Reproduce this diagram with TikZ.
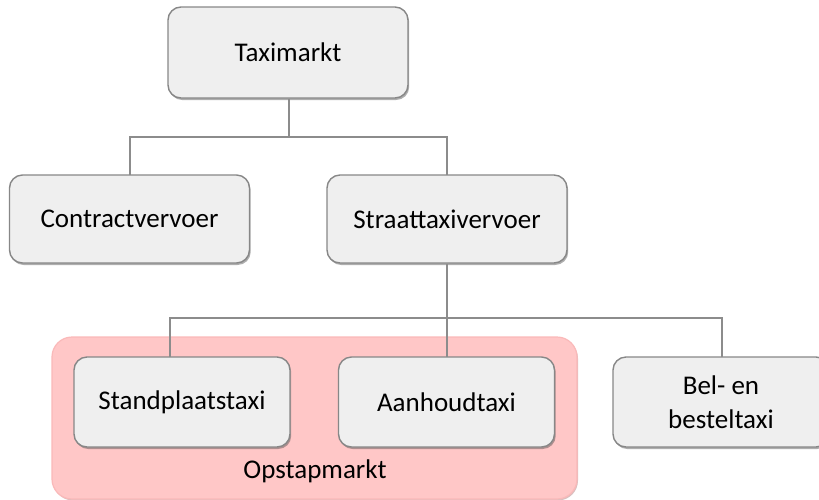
\documentclass[tikz,border=0pt]{standalone}
\usepackage{fontspec}
\setmainfont{Carlito}
\usetikzlibrary{shadows}
\definecolor{boxfill}{RGB}{239,239,239}
\definecolor{boxline}{RGB}{135,135,135}
\definecolor{linkcol}{RGB}{140,140,140}
\definecolor{pinkfill}{RGB}{255,199,199}
\definecolor{pinkline}{RGB}{250,185,185}
\tikzset{
  orgbox/.style={rectangle, rounded corners=13pt, draw=boxline, line width=1.4pt,
    fill=boxfill, inner sep=0pt, align=center, font=\fontsize{27}{34}\selectfont,
    drop shadow={shadow xshift=1.2pt, shadow yshift=-2pt, opacity=0.45, fill=black!70}},
  groupbox/.style={rectangle, rounded corners=20pt, draw=pinkline, line width=1.2pt,
    fill=pinkfill, inner sep=0pt,
    drop shadow={shadow xshift=1pt, shadow yshift=-1.5pt, opacity=0.25, fill=red!40!black}},
  link/.style={draw=linkcol, line width=2pt}
}
\begin{document}
\begin{tikzpicture}[x=1pt,y=-1pt]
\useasboundingbox (0,0) rectangle (819,499);
% group
\node[groupbox, minimum width=525pt, minimum height=162pt] (grp) at (314.5,418) {};
\node[font=\fontsize{27}{31}\selectfont, anchor=center, inner sep=0pt] (grplbl) at (315,471) {Opstapmarkt};
% boxes
\node[orgbox, minimum width=240pt, minimum height=91pt] (tax) at (288,52.5) {Taximarkt};
\node[orgbox, minimum width=240pt, minimum height=88pt] (con) at (129.5,219) {Contractvervoer};
\node[orgbox, minimum width=240pt, minimum height=88pt] (str) at (447,219) {Straattaxivervoer};
\node[orgbox, minimum width=216pt, minimum height=90pt] (sta) at (182,402) {Standplaatstaxi};
\node[orgbox, minimum width=216pt, minimum height=90pt] (aan) at (446.5,402) {Aanhoudtaxi};
\node[orgbox, minimum width=216pt, minimum height=90pt] (bel) at (721,402) {Bel- en\\besteltaxi};
% junctions
\coordinate (j1) at (289,137);
\coordinate (j2) at (447,318);
\coordinate (staTop) at (170,357);
\coordinate (aanTop) at (447,357);
\coordinate (belTop) at (722,357);
\coordinate (conTop) at (130,175);
\coordinate (strTop) at (447,175);
% connectors
\draw[link] (tax.south -| j1) -- (j1);
\draw[link] (conTop) |- (j1) -| (strTop);
\draw[link] (str.south -| j2) -- (j2);
\draw[link] (staTop) |- (j2) -| (belTop);
\draw[link] (j2) -- (aanTop);
\end{tikzpicture}
\end{document}
